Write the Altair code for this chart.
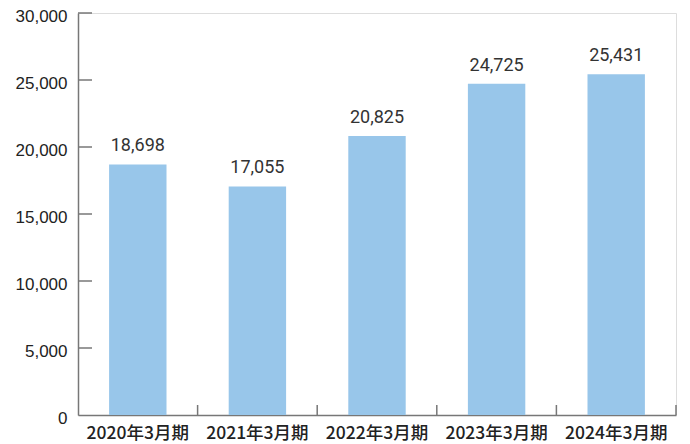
import altair as alt
import pandas as pd

categories = ["2020年3月期", "2021年3月期", "2022年3月期", "2023年3月期", "2024年3月期"]
values = [18698, 17055, 20825, 24725, 25431]
y_ticks = [0, 5000, 10000, 15000, 20000, 25000, 30000]

df = pd.DataFrame({"cat": categories, "val": values})
df["label"] = [f"{v:,}" for v in values]
tick_df = pd.DataFrame({"t": y_ticks[1:]})

W, H = 598, 402
axis_color = "#777777"

xscale = alt.Scale(domain=categories, paddingInner=0, paddingOuter=0)
yscale = alt.Scale(domain=[0, 30000])

x_enc = alt.X("cat:N", scale=xscale, sort=categories,
              axis=alt.Axis(title=None, labelAngle=0, ticks=False, labelPadding=9,
                            labelFontSize=17.5, labelFont="Noto Sans CJK JP", labelFontWeight=500,
                            labelColor="#222222", domainColor=axis_color, domainWidth=1.5))
y_enc = alt.Y("val:Q", scale=yscale,
              axis=alt.Axis(title=None, values=y_ticks, format=",d", ticks=False, grid=False,
                            labelPadding=11, labelFontSize=17, labelFont="Liberation Sans",
                            labelOffset=3,
                            labelColor="#222222", domainColor=axis_color, domainWidth=1.5))

bars = alt.Chart(df).mark_bar(width=alt.RelativeBandSize(0.48), color="#98C6EA").encode(
    x=x_enc, y=y_enc)

text = alt.Chart(df).mark_text(baseline="bottom", dy=-9, fontSize=18,
                               font="Roboto", color="#333333").encode(
    x=alt.X("cat:N", scale=xscale, sort=categories, axis=None),
    y=alt.Y("val:Q", scale=yscale, axis=None),
    text="label:N")

xticks = alt.Chart(df).mark_rule(color=axis_color, strokeWidth=1.5).encode(
    x=alt.X("cat:N", scale=xscale, sort=categories, bandPosition=1, axis=None),
    y=alt.value(H), y2=alt.value(H - 10))

yticks = alt.Chart(tick_df).mark_rule(color=axis_color, strokeWidth=1.5).encode(
    y=alt.Y("t:Q", scale=yscale, axis=None),
    x=alt.value(0), x2=alt.value(14))

chart = alt.layer(bars, text, xticks, yticks).resolve_axis(
    x="independent", y="independent"
).properties(
    width=W, height=H,
    autosize=alt.AutoSizeParams(type="none"),
    padding={"left": 70, "top": 5, "right": 5, "bottom": 30},
).configure_view(strokeWidth=0, stroke="transparent").configure(background="white")

chart.save("out.html", embed_options={"renderer": "svg", "actions": False})
